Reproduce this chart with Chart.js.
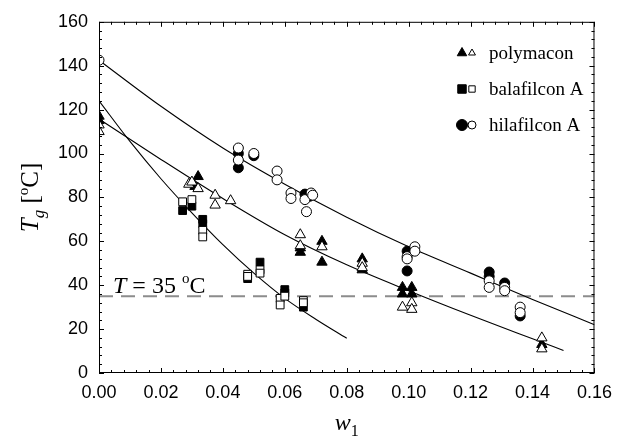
<!DOCTYPE html>
<html>
<head>
<meta charset="utf-8">
<script src="https://cdn.jsdelivr.net/npm/chart.js@4.4.0/dist/chart.umd.min.js"></script>
<style>
html, body { margin: 0; padding: 0; background: #fff; }
#wrap { width: 621px; height: 446px; }
</style>
</head>
<body>
<div id="wrap"><canvas id="tgChart"></canvas></div>
<script>
// measured points [w1, Tg]
const polyFilled = [[0,117],[0,115],[0.031,85],[0.032,89.5],[0.065,55],[0.065,57],[0.072,60],[0.072,50.5],
	[0.085,52],[0.085,47],[0.098,39],[0.098,36],[0.101,39],[0.101,36],[0.143,13]];
const polyOpen = [[0,113],[0,110],[0.029,86],[0.030,87],[0.032,84],[0.0375,81],[0.0375,76.5],[0.0425,78.5],
	[0.065,63],[0.065,58],[0.072,57.5],[0.085,50],[0.085,48],[0.098,30],[0.101,32],[0.101,29],[0.143,16],[0.143,11]];
const balaFilled = [[0.027,74],[0.030,76],[0.0335,70],[0.0335,68],[0.048,43],[0.052,50.5],[0.060,38],[0.060,36.5],[0.066,30]];
const balaOpen = [[0.027,78],[0.030,79],[0.0335,65],[0.0335,62],[0.048,45],[0.048,44],[0.052,47],[0.052,45.5],
	[0.0585,34],[0.0585,31],[0.060,35],[0.066,33],[0.066,32]];
const hilaFilled = [[0.045,100],[0.045,93.5],[0.050,99],[0.0665,81.5],[0.068,80.5],[0.0995,55.5],[0.0995,46.5],
	[0.126,46],[0.126,44],[0.131,41],[0.136,26]];
const hilaOpen = [[0,142.5],[0.045,102.5],[0.045,97],[0.050,100],[0.0575,92],[0.0575,88],[0.062,82],[0.062,79.5],
	[0.0665,79],[0.067,73.5],[0.0685,82],[0.069,81],[0.0995,53],[0.0995,52],[0.102,57.5],[0.102,55.5],
	[0.126,42],[0.126,39],[0.131,39],[0.131,37.5],[0.136,30],[0.136,27.5]];

// fitted curves
const hilaCurveX = [0, 0.02, 0.04, 0.06, 0.08, 0.10, 0.12, 0.14, 0.16];
const hilaCurveY = [142.5, 121.5, 102.5, 86, 71, 57.5, 45.5, 33.5, 22];
const polyCurveX = [0, 0.02, 0.04, 0.06, 0.08, 0.10, 0.12, 0.14, 0.15];
const polyCurveY = [115.7, 97.3, 79.5, 63, 49.3, 37.5, 26.3, 15.6, 10.3];
const balaCurveX = [0, 0.01, 0.02, 0.03, 0.04, 0.05, 0.06, 0.07, 0.08];
const balaCurveY = [124, 105.5, 88.5, 73, 58.5, 45.5, 34, 24.5, 15.8];

const refLineX = [0, 0.16];
const refT = 35;

const seriesNames = ['polymacon', 'balafilcon A', 'hilafilcon A'];
const seriesShapes = ['triangle', 'rect', 'circle'];

const serif = '"Liberation Serif", "Times New Roman", serif';
const sans = '"Liberation Sans", Arial, sans-serif';

const toXY = arr => arr.map(p => ({x: p[0], y: p[1]}));
const zipXY = (xs, ys) => xs.map((x, i) => ({x: x, y: ys[i]}));

function markers(pts, shape, filled, r) {
	return {
		type: 'scatter',
		data: toXY(pts),
		pointStyle: shape,
		pointRadius: r,
		pointBackgroundColor: filled ? '#000' : '#fff',
		pointBorderColor: '#000',
		pointBorderWidth: 1,
		showLine: false
	};
}
function curve(xs, ys) {
	return {
		type: 'line',
		data: zipXY(xs, ys),
		borderColor: '#000',
		borderWidth: 1.1,
		pointRadius: 0,
		cubicInterpolationMode: 'monotone',
		fill: false
	};
}

// draw a run of text pieces (italic / sub / superscript)
function drawRich(ctx, parts, x, y, align) {
	let w = 0;
	parts.forEach(p => { ctx.font = p.f; w += ctx.measureText(p.t).width; });
	let cx = align === 'center' ? x - w / 2 : x;
	ctx.textAlign = 'left';
	ctx.textBaseline = 'alphabetic';
	parts.forEach(p => {
		ctx.font = p.f;
		ctx.fillText(p.t, cx, y + (p.dy || 0));
		cx += ctx.measureText(p.t).width;
	});
}

function legendMark(ctx, shape, x, y, r, filled) {
	ctx.save();
	ctx.fillStyle = filled ? '#000' : '#fff';
	ctx.strokeStyle = '#000';
	ctx.lineWidth = 1;
	Chart.helpers.drawPoint(ctx, {pointStyle: shape, radius: r, borderWidth: 1}, x, y);
	ctx.restore();
}

const decor = {
	id: 'decor',
	afterDraw(chart) {
		const ctx = chart.ctx;
		const a = chart.chartArea;
		const xs = chart.scales.x, ys = chart.scales.y;
		ctx.save();
		ctx.strokeStyle = '#000';
		ctx.lineWidth = 1;
		ctx.strokeRect(a.left + 0.5, a.top + 0.5, a.right - a.left - 1, a.bottom - a.top - 1);
		ctx.beginPath();
		for (let i = 0; i <= 40; i++) {
			const px = Math.round(xs.getPixelForValue(i * 0.004)) + 0.5;
			const len = i % 5 === 0 ? 5 : 3;
			ctx.moveTo(px, a.bottom); ctx.lineTo(px, a.bottom - len);
			ctx.moveTo(px, a.top); ctx.lineTo(px, a.top + len);
		}
		for (let i = 0; i <= 40; i++) {
			const py = Math.round(ys.getPixelForValue(i * 4)) + 0.5;
			const len = i % 5 === 0 ? 5 : 3;
			ctx.moveTo(a.left, py); ctx.lineTo(a.left + len, py);
			ctx.moveTo(a.right, py); ctx.lineTo(a.right - len, py);
		}
		ctx.stroke();

		ctx.fillStyle = '#000';
		// legend
		const rowY = [53, 89, 125];
		seriesNames.forEach((name, i) => {
			const big = seriesShapes[i] === 'rect' ? 6 : 5.5;
			const small = seriesShapes[i] === 'rect' ? 4.5 : 4;
			legendMark(ctx, seriesShapes[i], 462, rowY[i], big, true);
			legendMark(ctx, seriesShapes[i], 472, rowY[i], small, false);
			ctx.fillStyle = '#000';
			ctx.font = '19px ' + serif;
			ctx.textAlign = 'left';
			ctx.textBaseline = 'middle';
			ctx.fillText(name, 489, rowY[i] + 1);
		});

		// T = 35 oC label
		drawRich(ctx, [
			{t: 'T', f: 'italic 24px ' + serif},
			{t: ' = 35 ', f: '24px ' + serif},
			{t: 'o', f: '15px ' + serif, dy: -10},
			{t: 'C', f: '24px ' + serif}
		], 113, 293, 'left');

		// axis titles
		drawRich(ctx, [
			{t: 'w', f: 'italic 24px ' + serif},
			{t: '1', f: '16px ' + serif, dy: 6}
		], (a.left + a.right) / 2, 430, 'center');
		ctx.translate(38, (a.top + a.bottom) / 2);
		ctx.rotate(-Math.PI / 2);
		drawRich(ctx, [
			{t: 'T', f: 'italic 25px ' + serif},
			{t: 'g', f: 'italic 17px ' + serif, dy: 6},
			{t: ' [', f: '25px ' + serif},
			{t: 'o', f: '15px ' + serif, dy: -10},
			{t: 'C]', f: '25px ' + serif}
		], 0, 0, 'center');
		ctx.restore();
	}
};

const refLine = {
	type: 'line',
	data: refLineX.map(x => ({x: x, y: refT})),
	borderColor: '#8c8c8c',
	borderWidth: 2,
	borderDash: [14, 8],
	pointRadius: 0,
	fill: false
};

new Chart(document.getElementById('tgChart'), {
	type: 'scatter',
	data: {
		datasets: [
			markers(hilaOpen, 'circle', false, 5),
			markers(hilaFilled, 'circle', true, 5),
			markers(balaOpen, 'rect', false, 5.5),
			markers(balaFilled, 'rect', true, 5.5),
			markers(polyOpen, 'triangle', false, 6),
			markers(polyFilled, 'triangle', true, 6),
			curve(hilaCurveX, hilaCurveY),
			curve(polyCurveX, polyCurveY),
			curve(balaCurveX, balaCurveY),
			refLine
		]
	},
	options: {
		responsive: true,
		maintainAspectRatio: false,
		animation: false,
		layout: {padding: {top: 21, right: 20, left: 0, bottom: 0}},
		plugins: {
			legend: {display: false},
			tooltip: {enabled: false}
		},
		scales: {
			x: {
				type: 'linear',
				min: 0,
				max: 0.16,
				grid: {display: false, drawTicks: false},
				border: {display: false},
				ticks: {
					stepSize: 0.02,
					color: '#000',
					font: {family: sans, size: 18},
					padding: 9,
					maxRotation: 0,
					callback: v => v.toFixed(2)
				},
				afterFit: s => { s.height = 73; }
			},
			y: {
				min: 0,
				max: 160,
				grid: {display: false, drawTicks: false},
				border: {display: false},
				ticks: {
					stepSize: 20,
					color: '#000',
					font: {family: sans, size: 18},
					padding: 11,
					callback: v => String(v)
				},
				afterFit: s => { s.width = 99; }
			}
		}
	},
	plugins: [decor]
});
</script>
</body>
</html>
